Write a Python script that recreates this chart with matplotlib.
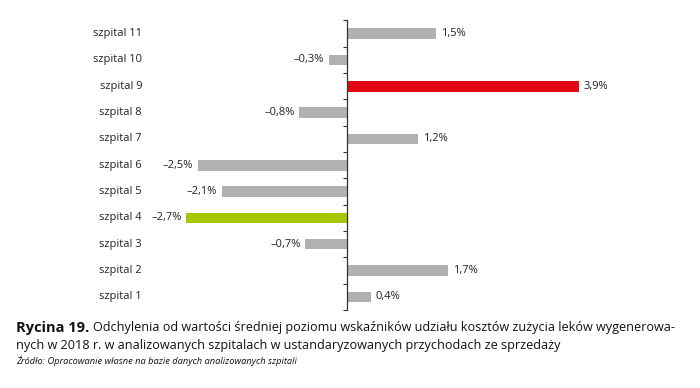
import matplotlib
matplotlib.use('Agg')
import matplotlib.pyplot as plt
import matplotlib.transforms as mtransforms

# data (szpital 1 .. szpital 11)
hospitals = ['szpital 1', 'szpital 2', 'szpital 3', 'szpital 4', 'szpital 5', 'szpital 6',
             'szpital 7', 'szpital 8', 'szpital 9', 'szpital 10', 'szpital 11']
values = [0.4, 1.7, -0.7, -2.7, -2.1, -2.5, 1.2, -0.8, 3.9, -0.3, 1.5]
highlight = {'szpital 9': '#e30613', 'szpital 4': '#a9c700'}
GREY = '#b1b1b1'

plt.rcParams['font.family'] = ['Open Sans', 'DejaVu Sans']

fig = plt.figure(figsize=(7, 3.88), dpi=100)
ax = fig.add_axes([0.2457, 0.2010, 0.64, 0.7462])

ypos = list(range(len(hospitals)))
colors = [highlight.get(h, GREY) for h in hospitals]
ax.barh(ypos, values, height=0.40, color=colors, zorder=2)

ax.set_xlim(-2.94, 4.59)
ax.set_ylim(-0.5, len(hospitals) - 0.5)

for s in ['top', 'right', 'bottom']:
    ax.spines[s].set_visible(False)
ax.spines['left'].set_position(('data', 0))
ax.spines['left'].set_color('#333333')
ax.spines['left'].set_linewidth(0.9)
ax.set_xticks([])
ax.set_yticks([y + 0.5 for y in range(-1, len(hospitals))])
ax.set_yticklabels([])
ax.tick_params(axis='y', direction='out', length=3, width=0.8, color='#333333')

lab_tr = mtransforms.blended_transform_factory(fig.transFigure, ax.transData)
for y, h in zip(ypos, hospitals):
    ax.text(142 / 700, y, h, transform=lab_tr, ha='right', va='center',
            fontsize=8, color='#222222')

for y, v in zip(ypos, values):
    txt = ('–' if v < 0 else '') + f'{abs(v):.1f}'.replace('.', ',') + '%'
    off = 0.08 if v >= 0 else -0.08
    ax.text(v + off, y, txt, ha='left' if v >= 0 else 'right', va='center',
            fontsize=8, color='#222222')

# caption
fig.canvas.draw()
r = fig.canvas.get_renderer()
t1 = fig.text(16 / 700, 1 - 328 / 388, 'Rycina 19.', fontsize=10.5, fontweight='bold',
              va='center', ha='left', color='#111111')
bb = t1.get_window_extent(renderer=r)
fig.text(bb.x1 / 700 + 4 / 700, 1 - 328 / 388,
         'Odchylenia od wartości średniej poziomu wskaźników udziału kosztów zużycia leków wygenerowa-',
         fontsize=9.1, va='center', ha='left', color='#111111')
fig.text(16 / 700, 1 - 345 / 388,
         'nych w 2018 r. w analizowanych szpitalach w ustandaryzowanych przychodach ze sprzedaży',
         fontsize=9.1, va='center', ha='left', color='#111111')
fig.text(16 / 700, 1 - 361 / 388,
         'Źródło: Opracowanie własne na bazie danych analizowanych szpitali',
         fontsize=6.7, style='italic', va='center', ha='left', color='#111111')

fig.savefig('out.png', dpi=100)
